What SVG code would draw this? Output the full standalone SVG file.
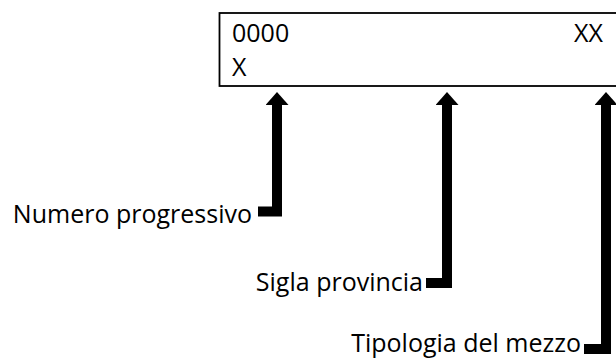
<svg xmlns="http://www.w3.org/2000/svg" width="616" height="360" viewBox="0 0 616 360">
  <style>
    text { font-family: "Open Sans", "Noto Sans", "Liberation Sans", sans-serif; font-size: 25px; fill: #000; }
    .conn { fill: none; stroke: #000; stroke-width: 10; stroke-linejoin: miter; }
  </style>
  <defs>
    <marker id="head" viewBox="0 0 13 23" refX="1" refY="11.5" markerWidth="13" markerHeight="23" markerUnits="userSpaceOnUse" orient="auto">
      <path d="M0,0 L13,11.5 L0,23 Z" fill="#000"/>
    </marker>
  </defs>
  <rect width="616" height="360" fill="#fff"/>
  <g id="plate">
    <rect x="219.5" y="13" width="430" height="73" fill="#fff" stroke="#000" stroke-width="1.8"/>
    <text x="232" y="42">0000</text>
    <text x="232" y="76">X</text>
    <text x="603" y="42" text-anchor="end">XX</text>
  </g>
  <g id="label-numero">
    <text x="252" y="223" text-anchor="end">Numero progressivo</text>
  </g>
  <g id="label-sigla">
    <text x="423" y="291" text-anchor="end">Sigla provincia</text>
  </g>
  <g id="label-tipologia">
    <text x="581" y="352" text-anchor="end">Tipologia del mezzo</text>
  </g>
  <g id="connectors">
    <path class="conn" d="M258,211.5 H277 V104" marker-end="url(#head)"/>
    <path class="conn" d="M426,283 H447 V104" marker-end="url(#head)"/>
    <path class="conn" d="M584,349 H606 V104" marker-end="url(#head)"/>
  </g>
</svg>
